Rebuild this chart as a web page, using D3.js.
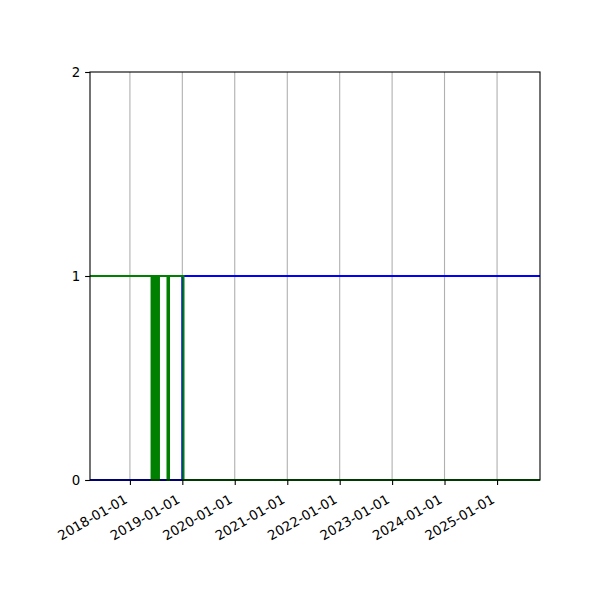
<!DOCTYPE html>
<html>
<head>
<meta charset="utf-8">
<script src="https://cdn.jsdelivr.net/npm/d3@7"></script>
<style>
  body { margin: 0; background: #fff; }
  text { font-family: "DejaVu Sans", sans-serif; font-size: 13.33px; fill: #000; }
</style>
</head>
<body>
<div id="chart"></div>
<script>
var parse = d3.timeParse('%Y-%m-%d');

// x range of the plot
var xStart = '2017-03-29',
    xEnd = '2025-10-27';

var tickDates = ['2018-01-01', '2019-01-01', '2020-01-01', '2021-01-01',
                 '2022-01-01', '2023-01-01', '2024-01-01', '2025-01-01'];
var yTicks = [0, 1, 2];

// blue series (steps)
var blueDates = ['2017-03-29', '2019-01-01', '2025-10-27'];
var blueValues = [0, 1, 1];

// green series (steps), short drops to 0 in mid 2018
var greenDates = ['2017-03-29', '2018-06-01', '2018-06-04', '2018-06-07', '2018-06-10',
                  '2018-06-13', '2018-06-16', '2018-06-19', '2018-06-22', '2018-06-25',
                  '2018-06-28', '2018-07-01', '2018-07-04', '2018-07-07', '2018-07-10',
                  '2018-07-14', '2018-07-22', '2018-09-20', '2018-09-30', '2019-01-09',
                  '2025-10-27'];
var greenValues = [1, 0, 1, 0, 1, 0, 1, 0, 1, 0, 1, 0, 1, 0, 1, 0, 1, 0, 1, 0, 0];

var width = 600, height = 600,
    margin = {top: 72, right: 60, bottom: 120, left: 90},
    plotW = width - margin.left - margin.right,
    plotH = height - margin.top - margin.bottom;

var svg = d3.select('#chart').append('svg')
    .attr('width', width)
    .attr('height', height);

var g = svg.append('g')
    .attr('transform', 'translate(' + margin.left + ',' + margin.top + ')');

var x = d3.scaleTime()
    .domain([parse(xStart), parse(xEnd)])
    .range([0, plotW]);
var y = d3.scaleLinear()
    .domain([0, 2])
    .range([plotH, 0]);

var ticks = tickDates.map(parse);

// vertical grid
g.append('g').selectAll('line')
    .data(ticks)
    .enter().append('line')
    .attr('x1', function (d) { return x(d); })
    .attr('x2', function (d) { return x(d); })
    .attr('y1', 0)
    .attr('y2', plotH)
    .style('stroke', '#b0b0b0')
    .style('stroke-width', 1.1);

var makeLine = d3.line()
    .curve(d3.curveStepAfter)
    .x(function (d) { return x(d.date); })
    .y(function (d) { return y(d.value); });

function series(dates, values) {
    return dates.map(function (d, i) {
        return {date: parse(d), value: values[i]};
    });
}

g.append('path')
    .datum(series(blueDates, blueValues))
    .attr('d', makeLine)
    .style('fill', 'none')
    .style('stroke', '#0000ff')
    .style('stroke-width', 2.08);

g.append('path')
    .datum(series(greenDates, greenValues))
    .attr('d', makeLine)
    .style('fill', 'none')
    .style('stroke', '#008000')
    .style('stroke-width', 2.08);

// x axis
var xAxis = g.append('g')
    .attr('transform', 'translate(0,' + plotH + ')')
    .call(d3.axisBottom(x)
        .tickValues(ticks)
        .tickSize(4.9)
        .tickPadding(4.9)
        .tickFormat(d3.timeFormat('%Y-%m-%d')));
xAxis.select('.domain').remove();
xAxis.selectAll('line').style('stroke', '#000').style('stroke-width', 1.1);
xAxis.selectAll('text')
    .attr('font-size', null)
    .attr('font-family', null)
    .style('text-anchor', 'end')
    .attr('dy', null)
    .attr('y', null)
    .attr('transform', 'translate(-2,22) rotate(-30)');

// y axis
var yAxis = g.append('g')
    .call(d3.axisLeft(y)
        .tickValues(yTicks)
        .tickSize(4.9)
        .tickPadding(4.9)
        .tickFormat(d3.format('d')));
yAxis.select('.domain').remove();
yAxis.selectAll('line').style('stroke', '#000').style('stroke-width', 1.1);
yAxis.selectAll('text')
    .attr('font-size', null)
    .attr('font-family', null);

// frame
g.append('rect')
    .attr('width', plotW)
    .attr('height', plotH)
    .style('fill', 'none')
    .style('stroke', '#000')
    .style('stroke-width', 1.1);
</script>
</body>
</html>
